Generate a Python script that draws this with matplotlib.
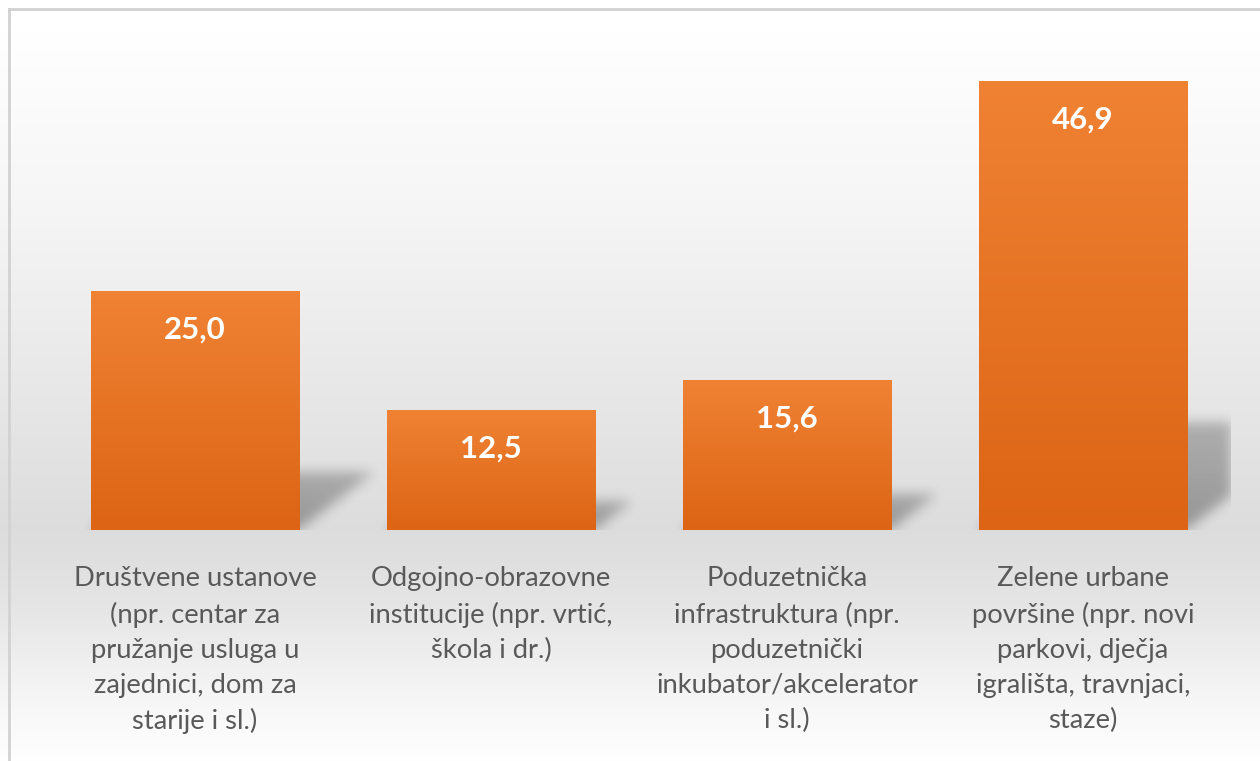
import numpy as np
import matplotlib.pyplot as plt
from matplotlib.colors import LinearSegmentedColormap
from matplotlib.lines import Line2D

plt.rcParams['font.family'] = ['Lato', 'DejaVu Sans']

categories = [
    "Društvene ustanove\n(npr. centar za\npružanje usluga u\nzajednici, dom za\nstarije i sl.)",
    "Odgojno-obrazovne\ninstitucije (npr. vrtić,\nškola i dr.)",
    "Poduzetnička\ninfrastruktura (npr.\npoduzetnički\ninkubator/akcelerator\ni sl.)",
    "Zelene urbane\npovršine (npr. novi\nparkovi, dječja\nigrališta, travnjaci,\nstaze)",
]
values = [25.0, 12.5, 15.6, 46.9]

W, H = 1260, 761
fig = plt.figure(figsize=(W / 100, H / 100), dpi=100)

# soft grey band behind the bars, white towards top and bottom
bg = fig.add_axes([0, 0, 1, 1], zorder=0)
bg.set_axis_off()
stops_y = [0, 30, 200, 400, 530, 600, 700, 761]
stops_v = [1.0, 1.0, 0.965, 0.905, 0.865, 0.895, 0.965, 1.0]
rows = np.interp(np.arange(H), stops_y, stops_v)
bg_img = np.repeat(np.repeat(rows[:, None, None], 3, axis=2), 8, axis=1)
bg.imshow(bg_img, aspect='auto', extent=[0, 1, 0, 1], interpolation='nearest')
bg.set_xlim(0, 1)
bg.set_ylim(0, 1)

# chart frame (top and left edges)
frame_col = '#d2d2d2'
fig.add_artist(Line2D([9 / W, 9 / W], [0, 1 - 9 / H], color=frame_col, lw=2))
fig.add_artist(Line2D([9 / W, 1], [1 - 9 / H, 1 - 9 / H], color=frame_col, lw=2))

ax = fig.add_axes([47 / W, (H - 530) / H, 1184 / W, 478 / H], zorder=1)
ax.patch.set_alpha(0)

x = np.arange(len(values))
bars = ax.bar(x, values, width=0.703, color='none', zorder=3)

# orange vertical gradient inside each bar
orange = LinearSegmentedColormap.from_list('orange', ['#dc6414', '#f08234'])
grad = np.linspace(0, 1, 256)[:, None]
for b in bars:
    x0, w, h = b.get_x(), b.get_width(), b.get_height()
    ax.imshow(grad, cmap=orange, aspect='auto', origin='lower',
              extent=[x0, x0 + w, 0, h], zorder=3)

# perspective shadows leaning to the right
xlim, ylim = (-0.5, 3.5), (0, 50)
nx, ny = 1184, 478
gx = np.linspace(*xlim, nx)
gy = np.linspace(*ylim, ny)
XX, YY = np.meshgrid(gx, gy)
shade = np.zeros_like(XX)
for b in bars:
    x0, w, h = b.get_x(), b.get_width(), b.get_height()
    hs = 0.24 * h
    shift = 0.042 * YY
    inside = (YY <= hs) & (XX >= x0 + shift) & (XX <= x0 + w + shift)
    shade = np.maximum(shade, inside * (1 - 0.25 * YY / hs))


def blur(a, sigma):
    r = int(3 * sigma)
    k = np.exp(-0.5 * (np.arange(-r, r + 1) / sigma) ** 2)
    k /= k.sum()
    a = np.apply_along_axis(lambda m: np.convolve(m, k, mode='same'), 0, a)
    a = np.apply_along_axis(lambda m: np.convolve(m, k, mode='same'), 1, a)
    return a


shade = blur(shade, 6)
rgba = np.zeros((ny, nx, 4))
rgba[..., 3] = 0.32 * shade
ax.imshow(rgba, origin='lower', aspect='auto', extent=[*xlim, *ylim], zorder=2)

for b, v in zip(bars, values):
    ax.annotate(f"{v:.1f}".replace(".", ","), (b.get_x() + b.get_width() / 2, v),
                xytext=(0, -27.5), textcoords='offset points', ha='center', va='center',
                color='white', fontsize=22.5, fontweight='bold', zorder=4)

ax.set_xlim(*xlim)
ax.set_ylim(*ylim)
ax.set_xticks(x, categories, fontsize=19.7, color='#595959', linespacing=1.5)
ax.tick_params(axis='x', length=0, pad=26)
ax.set_yticks([])
for s in ax.spines.values():
    s.set_visible(False)

fig.savefig('out.png', dpi=100)
